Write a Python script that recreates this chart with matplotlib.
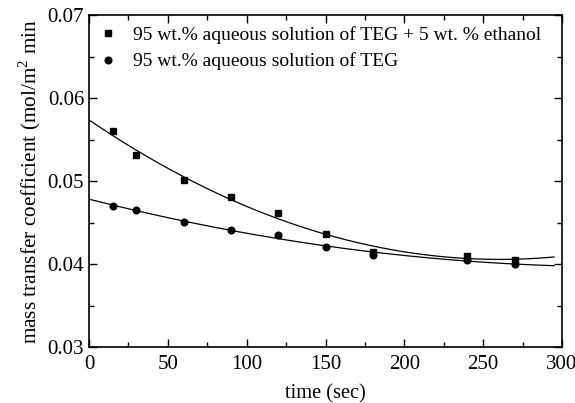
import numpy as np
import matplotlib
matplotlib.use('Agg')
import matplotlib.pyplot as plt
from matplotlib.ticker import MultipleLocator

plt.rcParams['font.family'] = ['Liberation Serif', 'DejaVu Serif']
plt.rcParams['mathtext.fontset'] = 'custom'
plt.rcParams['mathtext.rm'] = 'Liberation Serif'

time_s = [15, 30, 60, 90, 120, 150, 180, 240, 270]
teg_ethanol = [0.0560, 0.0531, 0.0501, 0.0481, 0.0461, 0.0436, 0.0414, 0.0410, 0.0405]
teg = [0.0470, 0.0465, 0.0451, 0.0441, 0.0435, 0.0420, 0.0411, 0.0405, 0.0400]

label_a = '95 wt.% aqueous solution of TEG + 5 wt. % ethanol'
label_b = '95 wt.% aqueous solution of TEG'

fig = plt.figure(figsize=(5.75, 4.03), dpi=100)
ax = fig.add_axes([89/575, 1 - 347/403, (562-89)/575, (347-15)/403])

# second order fit curves through the points
xs = np.linspace(0, 295, 200)
for y in (teg_ethanol, teg):
    c = np.polyfit(time_s, y, 2)
    ax.plot(xs, np.polyval(c, xs), color='black', lw=0.9)

ax.plot(time_s, teg_ethanol, 's', color='black', ms=4.5, label=label_a)
ax.plot(time_s, teg, 'o', color='black', ms=4.8, label=label_b)

ax.set_xlim(0, 300)
ax.set_ylim(0.03, 0.07)
ax.xaxis.set_major_locator(MultipleLocator(50))
ax.xaxis.set_minor_locator(MultipleLocator(25))
ax.yaxis.set_major_locator(MultipleLocator(0.01))
ax.yaxis.set_minor_locator(MultipleLocator(0.005))
ax.tick_params(which='both', direction='in', top=True, right=True, labelsize=15, width=1)
ax.tick_params(which='major', length=6)
ax.tick_params(which='minor', length=3.5)
ax.tick_params(axis='x', pad=6)
for s in ax.spines.values():
    s.set_linewidth(1.2)

ax.set_xlabel('time (sec)', fontsize=14.7, labelpad=7)
ax.set_ylabel('mass transfer coefficient (mol/m$^2$ min', fontsize=15.3, labelpad=3)

ax.legend(loc='upper left', bbox_to_anchor=(0.0, 0.99), frameon=False, fontsize=14,
          handletextpad=0.69, borderaxespad=0.18, borderpad=0.2, labelspacing=0.46,
          handlelength=1.2)

fig.savefig('out.png', dpi=100)
